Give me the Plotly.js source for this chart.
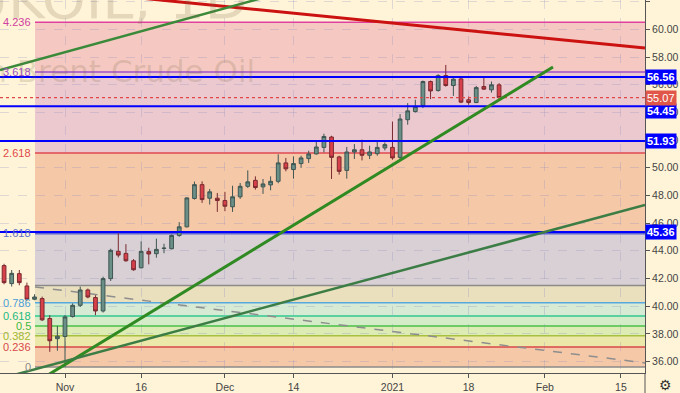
<!DOCTYPE html>
<html><head><meta charset="utf-8">
<script src="https://cdn.plot.ly/plotly-3.0.1.min.js"></script>
<style>html,body{margin:0;padding:0;background:#fff4d8;overflow:hidden}#chart{width:680px;height:393px}</style>
</head><body><div id="chart"></div>
<script>
// ---- data (UKOIL daily) ----
const dates = ['2020-10-21','2020-10-22','2020-10-23','2020-10-26','2020-10-27','2020-10-28','2020-10-29','2020-10-30',
 '2020-11-02','2020-11-03','2020-11-04','2020-11-05','2020-11-06','2020-11-09','2020-11-10','2020-11-11','2020-11-12','2020-11-13',
 '2020-11-16','2020-11-17','2020-11-18','2020-11-19','2020-11-20','2020-11-23','2020-11-24','2020-11-25','2020-11-26','2020-11-27',
 '2020-11-30','2020-12-01','2020-12-02','2020-12-03','2020-12-04','2020-12-07','2020-12-08','2020-12-09','2020-12-10','2020-12-11',
 '2020-12-14','2020-12-15','2020-12-16','2020-12-17','2020-12-18','2020-12-21','2020-12-22','2020-12-23','2020-12-24','2020-12-28',
 '2020-12-29','2020-12-30','2020-12-31','2021-01-04','2021-01-05','2021-01-06','2021-01-07','2021-01-08','2021-01-11','2021-01-12',
 '2021-01-13','2021-01-14','2021-01-15','2021-01-18','2021-01-19','2021-01-20','2021-01-21','2021-01-22'];
const opens = [42.93,41.63,42.35,41.46,40.50,40.55,39.11,37.65,
 37.81,39.25,40.06,41.17,40.62,39.65,41.99,43.96,43.81,43.28,
 42.77,43.94,43.79,44.17,44.15,45.11,45.73,47.78,48.78,47.80,
 47.80,47.63,47.18,47.90,48.66,49.09,48.62,48.76,49.02,50.35,
 49.87,50.30,50.66,51.00,51.47,52.22,50.78,49.81,51.14,51.30,
 50.90,51.02,51.43,51.47,50.75,53.47,54.06,54.50,56.23,55.58,
 56.66,55.94,56.42,54.91,54.71,55.87,55.63,55.99];
const highs = [43.06,42.61,42.61,41.70,40.86,40.69,39.35,38.57,
 39.35,40.20,41.41,41.27,40.79,42.13,44.15,45.27,44.48,43.40,
 44.68,44.22,44.88,44.51,45.18,46.07,47.87,49.00,49.02,48.47,
 48.18,48.26,48.70,48.90,49.81,49.38,49.19,49.38,50.97,50.71,
 50.82,50.87,51.23,51.86,52.46,52.31,50.87,51.50,51.71,52.03,
 51.59,51.95,51.83,53.34,53.88,54.67,54.91,56.30,56.30,56.76,
 57.43,56.47,56.59,55.14,55.91,56.59,56.23,56.11];
const lows = [41.58,41.42,41.51,40.38,40.43,38.93,36.70,36.78,
 35.62,39.18,39.94,40.57,39.35,39.54,41.82,43.52,43.21,42.56,
 42.73,43.02,43.50,43.82,44.10,45.01,45.69,47.70,47.46,47.34,
 46.81,46.86,46.81,47.75,48.54,48.42,48.11,48.37,48.88,49.74,
 49.21,49.99,50.35,50.95,51.11,49.19,49.50,49.21,50.63,50.53,
 50.63,50.87,51.25,50.58,50.58,53.11,53.99,54.31,54.96,55.50,
 55.86,55.19,54.67,54.55,54.67,55.63,55.43,54.96];
const closes = [41.70,42.37,41.70,40.50,40.66,39.01,37.50,37.83,
 39.22,40.06,41.17,40.66,39.65,41.99,44.03,43.69,43.28,42.63,
 43.96,43.77,44.10,44.19,45.11,45.73,47.82,48.78,47.70,48.26,
 47.63,47.22,47.90,48.66,48.98,48.57,48.83,49.02,50.35,49.92,
 50.30,50.71,51.00,51.50,52.26,50.75,49.74,51.14,51.30,50.90,
 51.14,51.47,51.67,50.71,53.52,54.11,54.42,56.23,55.55,56.66,
 55.94,56.40,54.74,54.71,55.79,55.68,55.99,55.07];

const tickDates  = ['2020-11-02','2020-11-16','2020-12-01','2020-12-14','2021-01-04','2021-01-18','2021-02-01','2021-02-15'];
const tickLabels = ['Nov','16','Dec','14','2021','18','Feb','15'];

const fibRatios = ['4.236','3.618','2.618','1.618','1','0.786','0.618','0.5','0.382','0.236','0'];
const fibPrices = [60.51,56.91,51.06,45.26,41.50,40.25,39.28,38.56,37.86,37.04,35.60];

const levelPrices = [56.56,54.45,51.93,45.36];
const lastPrice = 55.07;

const holidays = ['2020-12-25','2021-01-01'];
const baseDate = '2020-11-02';

// ---- styling ----
const fibLineColors  = ['#e040a0','#a050c8','#e04850','#6060d0','#8a8a8a','#58a8e0','#30c890','#48c048','#a8c040','#d84848','#8a8a8a'];
const fibLabelColors = ['#d040a0','#a050c0','#e04848','#6070c8','','#4aa0d8','#20b880','#40b840','#a0b830','#d84848','#888888'];
const fibFills = ['#f5c9c1','#ecc9cf','#f5c9a8','#d8d0d4','#ebe0be','#d6ead4','#d4ecc8','#dcecb4','#ece8aa','#f5c8a8'];
const levelTagShift = [0,-5,0,0];

const DAY = 86400000;
function isTrading(t){
  const d = new Date(t); const wd = d.getUTCDay();
  if (wd===0 || wd===6) return false;
  return !holidays.includes(d.toISOString().slice(0,10));
}
function tradingIndex(s){
  const b = Date.parse(baseDate+'T00:00:00Z'), t = Date.parse(s+'T00:00:00Z');
  let n = 0;
  if (t >= b) { for (let u=b+DAY; u<=t; u+=DAY) if (isTrading(u)) n++; }
  else { for (let u=t; u<b; u+=DAY) if (isTrading(u)) n--; }
  return n;
}
const xs = dates.map(tradingIndex);
const tickVals = tickDates.map(tradingIndex);

const X0 = -8.535, X1 = 76.16, Y0 = 35.17, Y1 = 62.12;
const fibStart = -3.94;

// drawn trendlines (anchor points: [index, price])
const redLine    = [[0,62.8],[76.16,58.65]];
const greenLine1 = [[-8.535,57.06],[30,62.88]];
const greenLine2 = [[-2.5,34.94],[64.08,57.28]];
const greenLine3 = [[-6.5,35.06],[76.16,47.31]];
const grayDash   = [[-3.94,41.39],[76.16,35.90]];

const shapes = [];
for (let i=0;i<fibFills.length;i++){
  shapes.push({type:'rect',xref:'x',yref:'y',x0:fibStart,x1:90,y0:fibPrices[i+1],y1:fibPrices[i],
    fillcolor:fibFills[i],line:{width:0},layer:'below'});
}
for (let i=0;i<fibPrices.length;i++){
  const w = (fibRatios[i]==='1.618') ? 2.5 : 1.5;
  shapes.push({type:'line',xref:'x',yref:'y',x0:fibStart,x1:90,y0:fibPrices[i],y1:fibPrices[i],
    line:{color:fibLineColors[i],width:w},layer:'between'});
}
shapes.push({type:'line',xref:'x',yref:'y',x0:grayDash[0][0],y0:grayDash[0][1],x1:grayDash[1][0],y1:grayDash[1][1],
  line:{color:'#8e8e8e',width:1.5,dash:'dash'},layer:'between'});
shapes.push({type:'line',xref:'paper',yref:'y',x0:0,x1:1,y0:lastPrice,y1:lastPrice,
  line:{color:'#e04848',width:1.3,dash:'dot'},layer:'above'});
levelPrices.forEach(p=>{
  shapes.push({type:'line',xref:'paper',yref:'y',x0:0,x1:1,y0:p,y1:p,line:{color:'#0000ff',width:2},layer:'above'});
});
function seg(pts,color,width){
  shapes.push({type:'line',xref:'x',yref:'y',x0:pts[0][0],y0:pts[0][1],x1:pts[1][0],y1:pts[1][1],
    line:{color:color,width:width},layer:'above'});
}
seg(redLine,'#cc1111',3);
seg(greenLine1,'#3a8a3a',2.5);
seg(greenLine2,'#2f8a22',3);
seg(greenLine3,'#3b7d45',2.5);
// right axis line continues into the date strip
shapes.push({type:'line',xref:'paper',yref:'paper',x0:1,x1:1,y0:0,y1:-0.06,line:{color:'#555',width:1}});

const annotations = [];
// watermark
annotations.push({xref:'paper',yref:'paper',x:250/645,y:1.005,xanchor:'right',yanchor:'middle',showarrow:false,
  text:'UKOIL, 1D',font:{family:'DejaVu Sans',size:56,color:'rgba(120,100,70,0.2)'}});
annotations.push({xref:'paper',yref:'paper',x:257/645,y:1-71/373,xanchor:'right',yanchor:'middle',showarrow:false,
  text:'CFDs on Brent Crude Oil',font:{family:'DejaVu Sans',size:31,color:'rgba(120,100,70,0.2)'}});
for (let i=0;i<fibPrices.length;i++){
  if (!fibLabelColors[i]) continue;
  annotations.push({xref:'x',yref:'y',x:fibStart-0.2,y:fibPrices[i],xanchor:'right',yanchor:'middle',showarrow:false,
    text:fibRatios[i],font:{family:'Liberation Sans',size:11,color:fibLabelColors[i]}});
}
levelPrices.forEach((p,i)=>{
  annotations.push({xref:'paper',yref:'y',x:1,y:p,xanchor:'left',yanchor:'middle',yshift:levelTagShift[i],showarrow:false,
    text:p.toFixed(2),bgcolor:'#0000ff',borderpad:1,font:{family:'Liberation Sans',size:11,color:'#ffffff',weight:'bold'}});
});
annotations.push({xref:'paper',yref:'y',x:1,y:lastPrice,xanchor:'left',yanchor:'middle',showarrow:false,
  text:lastPrice.toFixed(2),bgcolor:'#e0574a',borderpad:1,font:{family:'Liberation Sans',size:11,color:'#ffffff'}});
annotations.push({xref:'paper',yref:'paper',x:1+20/645,y:-12/373,xanchor:'center',yanchor:'middle',showarrow:false,
  text:'⚙',font:{family:'DejaVu Sans',size:14,color:'#333'}});

const trace = {
  type:'candlestick', x:xs, open:opens, high:highs, low:lows, close:closes,
  increasing:{line:{color:'#3e5552',width:1},fillcolor:'#6a8f86'},
  decreasing:{line:{color:'#7a2a30',width:1},fillcolor:'#d8404a'},
  hoverinfo:'skip', showlegend:false
};

const layout = {
  width:680,height:393,margin:{l:0,r:35,t:0,b:20},
  paper_bgcolor:'#fff4d8',plot_bgcolor:'#fff4d8',
  showlegend:false,
  xaxis:{type:'linear',range:[X0,X1],rangeslider:{visible:false},tickmode:'array',tickvals:tickVals,ticktext:tickLabels,
    showgrid:true,gridcolor:'rgba(140,140,190,0.28)',griddash:'dash',gridwidth:1,zeroline:false,
    showline:true,linecolor:'#555',linewidth:1,ticks:'outside',ticklen:4,tickcolor:'#555',
    tickfont:{family:'Liberation Sans',size:10.5,color:'#444'},fixedrange:true},
  yaxis:{side:'right',range:[Y0,Y1],dtick:2,tick0:0,tickformat:'.2f',
    showgrid:true,gridcolor:'rgba(140,140,190,0.28)',griddash:'dash',gridwidth:1,zeroline:false,
    showline:true,linecolor:'#555',linewidth:1,ticks:'outside',ticklen:4,tickcolor:'#555',
    tickfont:{family:'Liberation Sans',size:10.5,color:'#444'},fixedrange:true},
  shapes:shapes, annotations:annotations
};
Plotly.newPlot('chart',[trace],layout,{displayModeBar:false,staticPlot:true});
</script>
</body></html>
